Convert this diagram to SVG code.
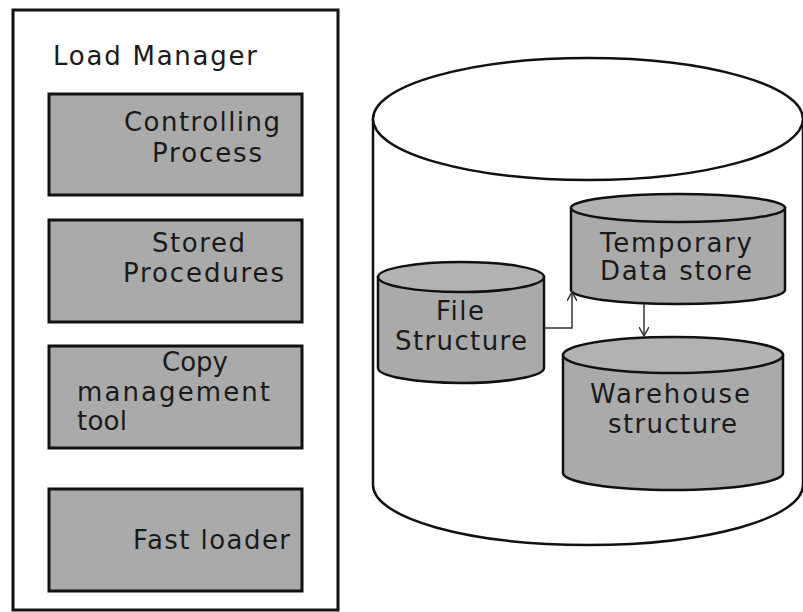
<svg xmlns="http://www.w3.org/2000/svg" width="803" height="612" viewBox="0 0 803 612">
<style>
.box{fill:#aaaaaa;stroke:#111;stroke-width:3}
.cyl{fill:#aaaaaa;stroke:#111;stroke-width:2.5}
.top{fill:#b2b2b2;stroke:#111;stroke-width:2.5}
.outer{fill:#fff;stroke:#111;stroke-width:3}
.big{fill:#fff;stroke:#111;stroke-width:2.5}
text{font-family:"DejaVu Sans","Liberation Sans",sans-serif;font-size:26px;fill:#1a1a1a}
.conn{fill:none;stroke:#333;stroke-width:1.5}
</style>
<defs>
<marker id="arr" viewBox="0 0 10 10" refX="9" refY="5" markerWidth="10" markerHeight="10" markerUnits="userSpaceOnUse" orient="auto">
<path d="M0,0 L9,5 L0,10" fill="none" stroke="#333" stroke-width="1.5"/>
</marker>
</defs>
<rect width="803" height="612" fill="#fff"/>
<g id="load-manager">
<rect class="outer" x="13" y="10" width="325" height="600"/>
<text x="53" y="65" textLength="204" lengthAdjust="spacing">Load Manager</text>
</g>
<g id="controlling-process">
<rect class="box" x="49" y="94" width="253" height="101"/>
<text x="124" y="131" textLength="156" lengthAdjust="spacing">Controlling</text>
<text x="152" y="162" textLength="110" lengthAdjust="spacing">Process</text>
</g>
<g id="stored-procedures">
<rect class="box" x="49" y="220" width="253" height="102"/>
<text x="152" y="252" textLength="93" lengthAdjust="spacing">Stored</text>
<text x="123" y="282" textLength="161" lengthAdjust="spacing">Procedures</text>
</g>
<g id="copy-management-tool">
<rect class="box" x="49" y="346" width="253" height="102"/>
<text x="162" y="371" textLength="66" lengthAdjust="spacing">Copy</text>
<text x="77" y="401" textLength="193" lengthAdjust="spacing">management</text>
<text x="77" y="430" textLength="50" lengthAdjust="spacing">tool</text>
</g>
<g id="fast-loader">
<rect class="box" x="49" y="489" width="253" height="102"/>
<text x="133" y="549" textLength="157" lengthAdjust="spacing">Fast loader</text>
</g>
<g id="warehouse">
<path class="big" d="M373,119 L373,485 A215,60 0 0 0 803,485 L803,119"/>
<ellipse class="big" cx="588" cy="119" rx="215" ry="61"/>
</g>
<g id="file-structure">
<path class="cyl" d="M378,277 L378,368 A83,15 0 0 0 544,368 L544,277 Z"/>
<ellipse class="top" cx="461" cy="277" rx="83" ry="15"/>
<text x="436" y="320" textLength="48" lengthAdjust="spacing">File</text>
<text x="395" y="350" textLength="132" lengthAdjust="spacing">Structure</text>
</g>
<g id="temporary-data-store">
<path class="cyl" d="M571,208 L571,290 A107,14 0 0 0 785,290 L785,208 Z"/>
<ellipse class="top" cx="678" cy="208" rx="107" ry="14"/>
<text x="600" y="252" textLength="152" lengthAdjust="spacing">Temporary</text>
<text x="600" y="280" textLength="152" lengthAdjust="spacing">Data store</text>
</g>
<g id="warehouse-structure">
<path class="cyl" d="M563,355 L563,473 A110,17 0 0 0 783,473 L783,355 Z"/>
<ellipse class="top" cx="673" cy="355" rx="110" ry="18"/>
<text x="590" y="403" textLength="160" lengthAdjust="spacing">Warehouse</text>
<text x="608" y="433" textLength="129" lengthAdjust="spacing">structure</text>
</g>
<g id="connectors">
<path class="conn" d="M544,328 L572,328 L572,292" marker-end="url(#arr)"/>
<path class="conn" d="M644,304 L644,336" marker-end="url(#arr)"/>
</g>
</svg>
